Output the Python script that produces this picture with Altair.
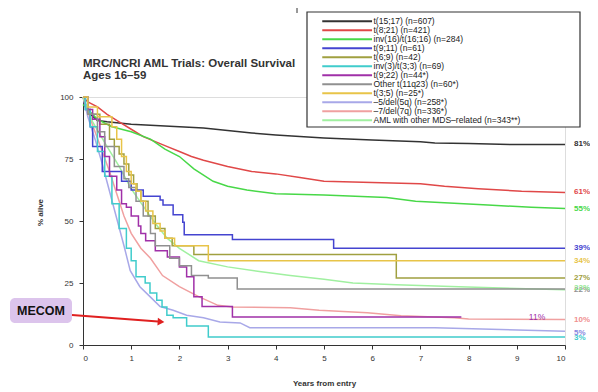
import altair as alt
import pandas as pd

# ---------------- data ----------------
series_names = [
    "t(15;17) (n=607)",
    "t(8;21) (n=421)",
    "inv(16)/t(16;16) (n=284)",
    "t(9;11) (n=61)",
    "t(6;9) (n=42)",
    "inv(3)/t(3;3) (n=69)",
    "t(9;22) (n=44*)",
    "Other t(11q23) (n=60*)",
    "t(3;5) (n=25*)",
    "–5/del(5q) (n=258*)",
    "–7/del(7q) (n=336*)",
    "AML with other MDS–related (n=343**)",
]
series_colors = ["#333333", "#e04848", "#48d848", "#4444d0", "#a0a040", "#40cccc",
                 "#a030a8", "#909090", "#e8c448", "#a8a8e8", "#f0a0a0", "#a0f0a0"]
# step-looking (small n) vs smooth-looking (large n)
series_kind = ["smooth", "smooth", "smooth", "step", "step", "step",
               "step", "step", "step", "smooth", "smooth", "smooth"]

t1517_years = [0, 0.05, 0.15, 0.3, 0.5, 1, 1.5, 2, 2.5, 3, 3.5, 4, 5, 6, 7, 7.3, 8, 9, 10]
t1517_pct = [100, 97, 93, 90.5, 90, 89, 88.5, 88, 87.5, 86.5, 85.5, 84.7, 83.5, 82.7, 82, 81.5, 81.3, 80.8, 80.8]

t821_years = [0, 0.1, 0.3, 0.5, 0.75, 1, 1.25, 1.5, 1.75, 2, 2.25, 2.5, 3, 3.5, 4, 4.5, 5, 6, 7, 7.5, 8.2, 9.1, 10]
t821_pct = [100, 98, 96, 93, 90, 87, 84, 82, 80, 78, 76, 74.5, 72, 70, 69, 67.5, 66, 65.5, 65, 64, 63, 62, 61.5]

inv16_years = [0, 0.1, 0.3, 0.6, 1, 1.4, 1.7, 2, 2.3, 2.7, 3, 3.4, 4, 5, 6.3, 6.9, 8.4, 9.3, 10]
inv16_pct = [97, 95, 91, 88, 86, 83, 79, 76, 71, 66, 64, 62.5, 61, 60.5, 59.5, 58, 56.5, 55.5, 55]

t911_years = [0, 0.05, 0.15, 0.2, 0.4, 0.8, 1.0, 1.25, 1.6, 1.66, 1.87, 2.07, 2.1, 3.1, 5.2, 10]
t911_pct = [100, 95, 88, 80, 70, 66, 62.5, 60, 58.5, 56.5, 52.5, 49.5, 44.5, 42.5, 39, 39]

t69_years = [0, 0.1, 0.35, 0.55, 0.65, 0.75, 0.85, 0.95, 1.05, 1.12, 1.2, 1.35, 1.5, 1.7, 1.85, 2.3, 6.5, 10]
t69_pct = [100, 93, 89, 83, 80, 77, 73, 68.5, 65, 62, 58, 52, 47, 43, 40, 36.5, 27, 27]

inv3_years = [0, 0.05, 0.15, 0.3, 0.45, 0.6, 0.75, 0.9, 1.0, 1.1, 1.29, 1.39, 1.53, 1.64, 1.74, 1.87, 2.15, 2.6, 10]
inv3_pct = [100, 95, 88, 78, 68, 57, 47, 39, 34, 27.5, 25, 21, 18, 15.3, 12, 11, 7.7, 3.2, 3.2]

t922_years = [0, 0.1, 0.2, 0.35, 0.45, 0.55, 0.7, 0.8, 0.9, 1.0, 1.15, 1.2, 1.3, 1.5, 1.75, 2.0, 2.15, 2.3, 2.47, 3.1, 7.85]
t922_pct = [100, 95, 91, 84, 76, 68, 62.5, 57, 55.5, 52, 48, 45, 42, 38, 35.5, 31.5, 27.5, 19.5, 15.5, 11.3, 11.3]

t11q23_years = [0, 0.1, 0.3, 0.45, 0.65, 0.85, 0.95, 1.1, 1.25, 1.4, 1.5, 1.8, 2.0, 2.25, 2.6, 3.2, 10]
t11q23_pct = [100, 93, 86, 80, 72, 67, 63.5, 58, 52, 45, 40, 35, 32, 28, 27, 22.6, 22.6]

t35_years = [0, 0.1, 0.3, 0.6, 0.7, 0.8, 0.9, 1.0, 1.1, 1.2, 1.3, 1.45, 1.6, 1.7, 1.9, 2.6, 10]
t35_pct = [100, 96, 92, 88, 83, 76, 70, 65, 62, 58, 54, 49, 46, 43, 40, 34, 34]

del5q_years = [0, 0.1, 0.25, 0.4, 0.55, 0.7, 0.85, 0.98, 1.18, 1.39, 1.6, 1.87, 2.15, 2.5, 2.84, 3.26, 3.46, 7.3, 10]
del5q_pct = [100, 92, 83, 73, 62, 51, 40, 30, 23.5, 19.5, 15.5, 14, 12, 11, 9.3, 8.9, 7, 7, 5.5]

del7q_years = [0, 0.1, 0.25, 0.4, 0.55, 0.7, 0.85, 1.0, 1.2, 1.4, 1.65, 2.0, 2.4, 2.8, 3.1, 4.3, 4.9, 5.9, 6.6, 7.7, 8, 10]
del7q_pct = [100, 94, 86, 78, 70, 61, 52, 45, 39, 35, 28, 23.5, 19.5, 16, 15.3, 15, 14, 13, 11.8, 11, 10.5, 10.3]

mds_years = [0, 0.2, 0.5, 0.75, 1.0, 1.25, 1.5, 1.75, 2.0, 2.4, 3.0, 3.7, 4.3, 5.0, 5.6, 6.5, 7.8, 9, 10]
mds_pct = [100, 90, 80, 72, 63, 56, 49, 43, 39, 34, 31.5, 29.5, 28, 26.5, 25, 24.3, 23.5, 22.8, 22.3]

series_years = [t1517_years, t821_years, inv16_years, t911_years, t69_years, inv3_years,
                t922_years, t11q23_years, t35_years, del5q_years, del7q_years, mds_years]
series_pct = [t1517_pct, t821_pct, inv16_pct, t911_pct, t69_pct, inv3_pct,
              t922_pct, t11q23_pct, t35_pct, del5q_pct, del7q_pct, mds_pct]

end_label_text = ["81%", "61%", "55%", "39%", "34%", "27%", "22%", "22%", "10%", "5%", "3%"]
end_label_value = [81, 61.5, 55, 39, 34, 27, 22, 22.8, 10, 5, 3]
end_label_color = ["#333333", "#e04848", "#48d848", "#4444d0", "#e8c448", "#a0a040",
                   "#909090", "#90e890", "#f09090", "#8888e0", "#40cccc"]

mid_label_text = ["11%"]
mid_label_year = [9.25]
mid_label_value = [11.4]

title_lines = ["MRC/NCRI AML Trials: Overall Survival", "Ages 16–59"]
annot_text = ["MECOM"]

# ---------------- build tables ----------------
rows = []
for name, kind, yrs, pcts in zip(series_names, series_kind, series_years, series_pct):
    for yv, pv in zip(yrs, pcts):
        rows.append({"series": name, "kind": kind, "year": yv, "pct": pv})
df = pd.DataFrame(rows)

ends = pd.DataFrame({"label": end_label_text, "pct": end_label_value,
                     "col": end_label_color, "year": [10] * len(end_label_text)})
mids = pd.DataFrame({"label": mid_label_text, "year": mid_label_year, "pct": mid_label_value})
one = pd.DataFrame({"label": annot_text})

FONT = "Liberation Sans"
W, H = 482, 248

xs = alt.Scale(domain=[0, 10], nice=False)
ys = alt.Scale(domain=[0, 100], nice=False)

x_enc = alt.X("year:Q", scale=xs, axis=alt.Axis(
    values=list(range(11)), title="Years from entry", grid=False, tickSize=4,
    labelPadding=5, labelFontSize=8, titleFontSize=8, titleFontWeight="bold",
    titleBaseline="middle", titleY=38, domainColor="#333", tickColor="#333",
    labelColor="#333", titleColor="#333", labelFont=FONT, titleFont=FONT))
y_enc = alt.Y("pct:Q", scale=ys, axis=alt.Axis(
    values=[0, 25, 50, 75, 100], title="% alive", grid=False, tickSize=4,
    labelPadding=6, labelFontSize=8, titleFontSize=8, titleFontWeight="bold",
    titleX=-43, titleY=115, titleAngle=270, titleBaseline="middle", titleAlign="center",
    domainColor="#333", tickColor="#333", labelColor="#333", titleColor="#333",
    labelFont=FONT, titleFont=FONT))

color_enc = alt.Color("series:N", sort=series_names,
                      scale=alt.Scale(domain=series_names, range=series_colors),
                      legend=alt.Legend(orient="none", legendX=235, legendY=-80, title=None,
                                        symbolType="M0,0H16.6", symbolSize=36,
                                        symbolStrokeWidth=1.8, labelFontSize=8.5,
                                        labelFont=FONT, labelColor="#222",
                                        labelOffset=47, rowPadding=0, padding=0,
                                        labelLimit=300))

legend_box = alt.Chart(one).mark_rect(fill="white", stroke="#333", strokeWidth=1.2).encode(
    x=alt.value(224), x2=alt.value(497), y=alt.value(-85), y2=alt.value(30))

lines_smooth = alt.Chart(df).transform_filter(alt.datum.kind == "smooth").mark_line(
    strokeWidth=1.5, interpolate="linear").encode(
    x=x_enc, y=y_enc, color=color_enc, detail="series:N", order="year:Q")
lines_step = alt.Chart(df).transform_filter(alt.datum.kind == "step").mark_line(
    strokeWidth=1.5, interpolate="step-after").encode(
    x=x_enc, y=y_enc, color=color_enc, detail="series:N", order="year:Q")

end_labels = alt.Chart(ends).mark_text(align="left", baseline="middle", dx=9,
                                       fontSize=8, fontWeight="bold", font=FONT).encode(
    x="year:Q", y="pct:Q", text="label:N", color=alt.Color("col:N", scale=None))

mid_labels = alt.Chart(mids).mark_text(align="left", baseline="middle", fontSize=8.5,
                                       font=FONT, color="#a030a8").encode(
    x="year:Q", y="pct:Q", text="label:N")

mecom_box = alt.Chart(one).mark_rect(fill="#dcc4ec", cornerRadius=5).encode(
    x=alt.value(-73), x2=alt.value(-11), y=alt.value(201), y2=alt.value(226))
mecom_text = alt.Chart(one).mark_text(fontSize=12.5, fontWeight="bold", font=FONT,
                                      color="#111").encode(
    x=alt.value(-42), y=alt.value(214), text="label:N")
arrow_line = alt.Chart(one).mark_rule(color="#e02020", strokeWidth=2).encode(
    x=alt.value(-11), y=alt.value(218), x2=alt.value(75), y2=alt.value(224.6))
arrow_head = alt.Chart(one).mark_point(shape="triangle-right", filled=True, color="#e02020",
                                       size=60, angle=4, opacity=1).encode(
    x=alt.value(78), y=alt.value(224.8))
tick_mark = alt.Chart(one).mark_rule(color="#333", strokeWidth=1).encode(
    x=alt.value(214), y=alt.value(-95), y2=alt.value(-84))

chart = alt.layer(
    legend_box, lines_smooth, lines_step, end_labels, mid_labels,
    mecom_box, mecom_text, arrow_line, arrow_head, tick_mark
).properties(
    width=W, height=H,
    title=alt.TitleParams(title_lines, anchor="start", frame="group", font=FONT,
                          fontSize=11.5, fontWeight="bold", color="#333",
                          lineHeight=12.5, offset=16, dy=96),
    padding={"left": 75, "top": 89, "right": 25, "bottom": 45},
    autosize=alt.AutoSizeParams(type="none"),
).configure_view(stroke=None).configure(background="white")

chart.save("out.html", embed_options={"renderer": "svg", "actions": False})
